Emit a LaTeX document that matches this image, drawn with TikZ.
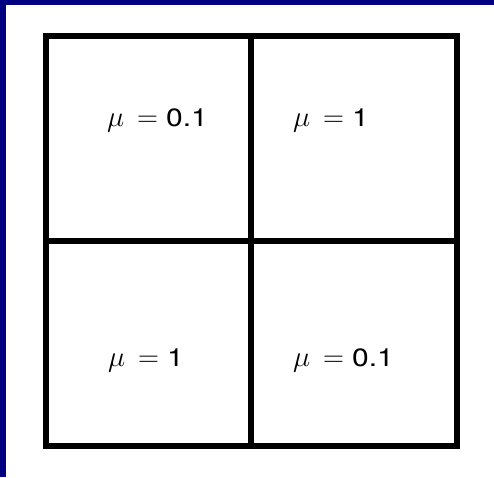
\documentclass[tikz,border=0pt]{standalone}
\usepackage{fontspec}
\setmainfont{TeX Gyre Heros}
\definecolor{framblue}{RGB}{0,0,128}
\newcommand{\mulab}[1]{\scalebox{1.4}{\fontsize{20.74}{25}\selectfont$\mu\,=$}\kern8pt\scalebox{1.2}[1]{\fontsize{25}{30}\selectfont #1}}
\begin{document}
\begin{tikzpicture}[x=1pt,y=1pt,
  gridline/.style={line width=6pt,black},
  lbl/.style={anchor=base west,inner sep=0pt}]
\useasboundingbox (0,0) rectangle (494,477);
\fill[framblue] (0,0) rectangle (6,477);
\fill[framblue] (0,472) rectangle (494,477);
\draw[gridline] (46,31) rectangle (457,441);
\draw[gridline] (251,31) -- (251,441);
\draw[gridline] (46,236) -- (457,236);
\node[lbl] (a) at (107,350) {\mulab{0.1}};
\node[lbl] (b) at (293,350) {\mulab{1}};
\node[lbl] (c) at (108,111) {\mulab{1}};
\node[lbl] (d) at (293,111) {\mulab{0.1}};
\end{tikzpicture}
\end{document}
